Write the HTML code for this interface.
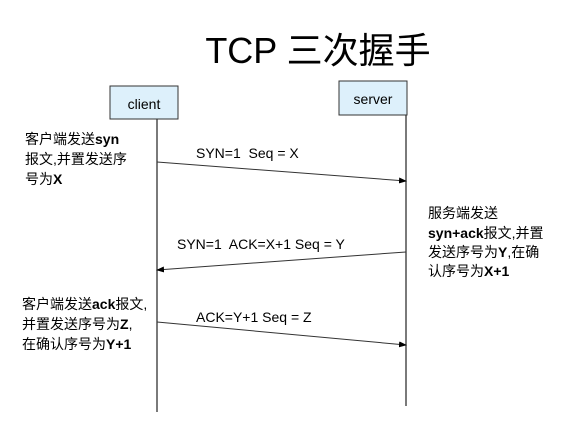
<!DOCTYPE html>
<html><head><meta charset="utf-8"><style>
body{margin:0;background:#fff;}
svg text{font-family:"Liberation Sans","Noto Sans CJK SC",sans-serif;fill:#000;white-space:pre;}
</style></head><body>
<svg width="570" height="432" xmlns="http://www.w3.org/2000/svg">
<defs><marker id="a" markerWidth="8" markerHeight="6" refX="7" refY="3" orient="auto" markerUnits="userSpaceOnUse"><path d="M0,0 L8,3 L0,6z" fill="#000"/></marker></defs>
<text x="318" y="63" font-size="36" text-anchor="middle">TCP 三次握手</text>
<rect x="110" y="86" width="68" height="33" fill="#ddf0fb" stroke="#333"/>
<text x="144" y="109" font-size="14" text-anchor="middle">client</text>
<rect x="339" y="81" width="68" height="34" fill="#ddf0fb" stroke="#333"/>
<text x="373" y="104" font-size="14" text-anchor="middle">server</text>
<line x1="157" y1="119" x2="157" y2="412" stroke="#333" stroke-width="1.3"/>
<line x1="406" y1="115" x2="406" y2="406" stroke="#333" stroke-width="1.3"/>
<line x1="157" y1="162" x2="406" y2="181" stroke="#333" marker-end="url(#a)"/>
<line x1="406" y1="252" x2="157" y2="270" stroke="#333" marker-end="url(#a)"/>
<line x1="157" y1="322" x2="406" y2="345" stroke="#333" marker-end="url(#a)"/>
<g font-size="14">
<text x="25" y="144">客户端发送<tspan font-weight="bold">syn</tspan></text>
<text x="25" y="164">报文,并置发送序</text>
<text x="25" y="184">号为<tspan font-weight="bold">X</tspan></text>
<text x="196" y="158">SYN=1  Seq = X</text>
<text x="428" y="218">服务端发送</text>
<text x="428" y="238"><tspan font-weight="bold">syn+ack</tspan>报文,并置</text>
<text x="428" y="257">发送序号为<tspan font-weight="bold">Y</tspan>,在确</text>
<text x="428" y="276">认序号为<tspan font-weight="bold">X+1</tspan></text>
<text x="177" y="249">SYN=1  ACK=X+1 Seq = Y</text>
<text x="22" y="309">客户端发送<tspan font-weight="bold">ack</tspan>报文,</text>
<text x="22" y="329">并置发送序号为<tspan font-weight="bold">Z</tspan>,</text>
<text x="22" y="349">在确认序号为<tspan font-weight="bold">Y+1</tspan></text>
<text x="196" y="322">ACK=Y+1 Seq = Z</text>
</g>
</svg>
</body></html>
